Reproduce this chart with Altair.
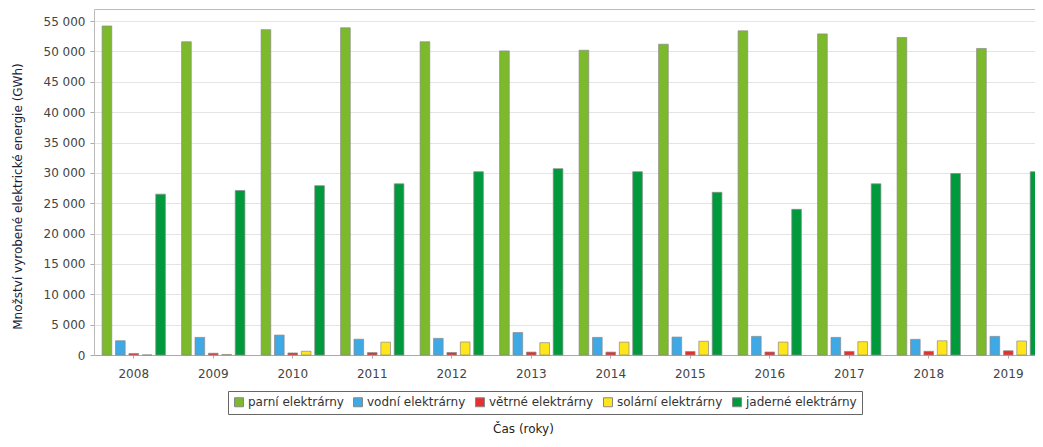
import altair as alt
import pandas as pd

years = ["2008", "2009", "2010", "2011", "2012", "2013", "2014", "2015", "2016", "2017", "2018", "2019"]
series = ["parní elektrárny", "vodní elektrárny", "větrné elektrárny", "solární elektrárny", "jaderné elektrárny"]
colors = ["#7cba2b", "#3fa9e5", "#e5302f", "#ffe61a", "#009a3d"]

parni = [54200, 51600, 53600, 53900, 51600, 50100, 50200, 51200, 53400, 52900, 52300, 50500]
vodni = [2350, 2900, 3280, 2600, 2740, 3700, 2900, 2950, 3070, 2900, 2580, 3070]
vetrne = [245, 288, 335, 397, 416, 480, 477, 573, 497, 591, 610, 700]
solarni = [13, 89, 616, 2118, 2149, 2033, 2123, 2264, 2131, 2193, 2340, 2304]
jaderne = [26500, 27100, 27900, 28200, 30200, 30700, 30200, 26800, 24000, 28200, 29900, 30200]

y_ticks = [0, 5000, 10000, 15000, 20000, 25000, 30000, 35000, 40000, 45000, 50000, 55000]

rows = []
for name, vals in zip(series, [parni, vodni, vetrne, solarni, jaderne]):
    for yr, v in zip(years, vals):
        rows.append({"rok": yr, "typ": name, "hodnota": v})
df = pd.DataFrame(rows)

FONT = "DejaVu Sans"

chart = alt.Chart(df).mark_bar(stroke="#8a8a8a", strokeWidth=0.7).encode(
    x=alt.X(
        "rok:N",
        sort=years,
        scale=alt.Scale(range=[0, 954], paddingInner=0.16, paddingOuter=0.08),
        axis=alt.Axis(
            title="Čas (roky)",
            labelAngle=0,
            tickSize=3,
            labelPadding=10,
            grid=False,
            titleX=429,
            titleY=73,
            titleAlign="center",
            titleBaseline="middle",
        ),
    ),
    xOffset=alt.XOffset(
        "typ:N", sort=series, scale=alt.Scale(domain=series, paddingInner=0.28, paddingOuter=0.13)
    ),
    y=alt.Y(
        "hodnota:Q",
        scale=alt.Scale(domain=[0, 57000], nice=False),
        axis=alt.Axis(
            title="Množství vyrobené elektrické energie (GWh)",
            values=y_ticks,
            labelExpr="replace(format(datum.value, ',d'), ',', ' ')",
            tickSize=4,
            labelPadding=5,
            domain=False,
            titleAngle=270,
            titleX=-77,
            titleY=187,
            titleAlign="center",
            titleBaseline="middle",
            titleColor="#1c1c3c",
        ),
    ),
    color=alt.Color(
        "typ:N",
        sort=series,
        scale=alt.Scale(domain=series, range=colors),
        legend=alt.Legend(
            title=None,
            orient="none",
            legendX=134,
            legendY=382,
            direction="horizontal",
            symbolType="square",
            symbolSize=81,
            symbolStrokeColor="#888888",
            symbolStrokeWidth=1,
            labelFont=FONT,
            labelFontSize=12,
            labelColor="#333333",
            labelOffset=3,
            columnPadding=7,
            strokeColor="#666666",
            fillColor="white",
            padding=5,
        ),
    ),
).properties(
    width=941,
    height=346,
    autosize=alt.AutoSizeParams(type="none"),
    padding={"left": 86, "top": 1, "right": 0, "bottom": 83},
).configure_view(
    stroke="#bbbbbb"
).configure_axis(
    labelFont=FONT,
    labelFontSize=12,
    labelColor="#444444",
    titleFont=FONT,
    titleFontSize=12,
    titleFontWeight="normal",
    titleColor="#222222",
    gridColor="#e4e4e4",
    domainColor="#aaaaaa",
    tickColor="#aaaaaa",
)

chart.save("out.html", embed_options={"renderer": "svg", "actions": False})
